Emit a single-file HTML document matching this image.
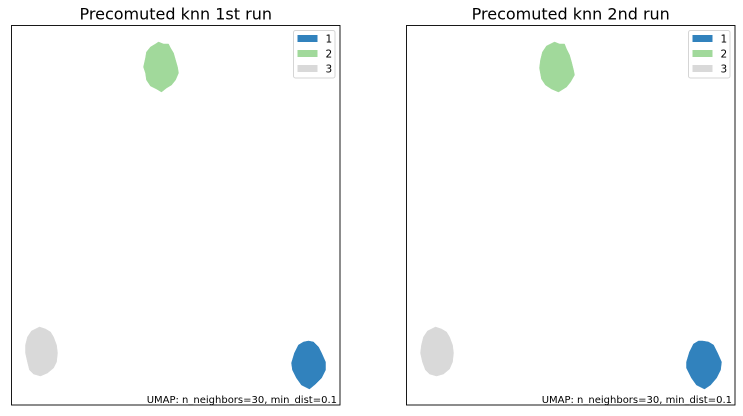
<!DOCTYPE html>
<html>
<head>
<meta charset="utf-8">
<style>
html,body{margin:0;padding:0;background:#fff;}
svg{display:block;}
text{font-family:"DejaVu Sans","Liberation Sans",sans-serif;fill:#000;}
</style>
</head>
<body>
<svg id="fig" xmlns="http://www.w3.org/2000/svg" width="743" height="416" viewBox="0 0 743 416"></svg>
<script>
const categories = ['1', '2', '3'];
const colors = ['#3182bd', '#a1d99b', '#d9d9d9'];
const titles = ['Precomuted knn 1st run', 'Precomuted knn 2nd run'];
const annotation = 'UMAP: n_neighbors=30, min_dist=0.1';

const run1Cluster1U = [29.7,30.2,30.7,31.0,31.4,31.4,31.0,30.4,29.8,29.0,28.5,28.1,28.0,28.3,28.7,29.2];
const run1Cluster1V = [6.4,6.3,5.8,5.2,4.3,3.5,2.7,2.1,1.6,2.0,2.7,3.5,4.2,5.2,6.0,6.3];
const run1Cluster2U = [14.7,15.2,15.7,15.9,16.2,16.4,16.6,16.7,16.4,16.0,15.5,15.0,14.5,13.9,13.5,13.4,13.2,13.4,13.5,13.9,14.4];
const run1Cluster2V = [36.3,36.1,36.1,35.7,35.2,34.5,33.8,33.2,32.5,32.0,31.7,31.3,31.6,31.9,32.5,33.2,33.8,34.7,35.3,35.8,36.1];
const run1Cluster3U = [2.8,3.4,3.9,4.2,4.5,4.6,4.5,4.2,3.6,2.9,2.2,1.8,1.6,1.4,1.4,1.6,2.0,2.4];
const run1Cluster3V = [7.8,7.6,7.3,6.8,6.0,5.2,4.3,3.7,3.2,2.9,3.1,3.5,4.3,5.2,6.0,6.8,7.4,7.6];

const run2Cluster1U = [29.6,30.2,30.7,31.1,31.5,31.4,31.0,30.4,29.8,29.0,28.5,28.0,28.0,28.3,28.7,29.2];
const run2Cluster1V = [6.4,6.3,6.0,5.2,4.3,3.5,2.7,2.0,1.6,2.0,2.7,3.7,4.3,5.3,6.1,6.4];
const run2Cluster2U = [14.8,15.3,15.8,16.0,16.3,16.5,16.7,16.8,16.4,16.0,15.2,14.5,13.9,13.5,13.3,13.4,13.6,14.0,14.4];
const run2Cluster2V = [36.3,36.1,36.1,35.6,35.0,34.3,33.5,33.0,32.3,31.8,31.3,31.6,32.0,32.6,33.7,34.5,35.3,35.9,36.1];
const run2Cluster3U = [2.9,3.5,4.0,4.3,4.6,4.7,4.6,4.3,3.7,3.0,2.3,1.9,1.6,1.4,1.5,1.7,2.1,2.5];
const run2Cluster3V = [7.8,7.6,7.3,6.8,6.0,5.2,4.3,3.6,3.1,2.9,3.1,3.5,4.3,5.2,6.0,6.8,7.4,7.6];

const run1Clusters = [[run1Cluster1U, run1Cluster1V], [run1Cluster2U, run1Cluster2V], [run1Cluster3U, run1Cluster3V]];
const run2Clusters = [[run2Cluster1U, run2Cluster1V], [run2Cluster2U, run2Cluster2V], [run2Cluster3U, run2Cluster3V]];

const xDomain = [0, 32.85];
const yDomain = [0, 37.95];
const svgNS = 'http://www.w3.org/2000/svg';
const fig = document.getElementById('fig');

function make(parent, tag, attrs, text) {
  const el = document.createElementNS(svgNS, tag);
  for (const k in attrs) el.setAttribute(k, attrs[k]);
  if (text !== undefined) el.textContent = text;
  parent.appendChild(el);
  return el;
}

function drawPanel(left, title, clusters, slug) {
  const top = 25.5, width = 328.5, height = 379.5;
  const xScale = u => left + (u - xDomain[0]) / (xDomain[1] - xDomain[0]) * width;
  const yScale = v => top + height - (v - yDomain[0]) / (yDomain[1] - yDomain[0]) * height;

  const panel = make(fig, 'g', {});
  
  

  const titleEl = make(panel, 'text', {x: left + width / 2, y: 19.5, 'text-anchor': 'middle', 'font-size': 16}, title);
  
  

  const frame = make(panel, 'rect', {x: left, y: top, width: width, height: height, fill: '#fff', stroke: '#000', 'stroke-width': 0.9});
  
  

  clusters.forEach((cluster, i) => {
    const pts = cluster[0].map((u, j) => xScale(u).toFixed(1) + ',' + yScale(cluster[1][j]).toFixed(1)).join(' ');
    const blob = make(panel, 'polygon', {points: pts, fill: colors[i], stroke: colors[i], 'stroke-width': 0.5, 'stroke-linejoin': 'round'});
    
    
  });

  const legendX = left + width - 46.5;
  const legend = make(panel, 'g', {});
  
  
  make(legend, 'rect', {x: legendX, y: 30.5, width: 41.5, height: 47.5, rx: 2, fill: '#fff', stroke: '#d5d5d5', 'stroke-width': 1});
  categories.forEach((cat, i) => {
    const rowY = 35 + i * 15;
    const swatch = make(legend, 'rect', {x: legendX + 4, y: rowY, width: 20, height: 7, fill: colors[i]});
    
    
    const label = make(legend, 'text', {x: legendX + 32, y: rowY + 7.5, 'font-size': 10.5}, cat);
    
    
  });

  const note = make(panel, 'text', {x: left + width - 3, y: 403, 'text-anchor': 'end', 'font-size': 10}, annotation);
  
  
}

drawPanel(11.5, titles[0], run1Clusters, 'run-1');
drawPanel(406.5, titles[1], run2Clusters, 'run-2');
</script>
</body>
</html>
